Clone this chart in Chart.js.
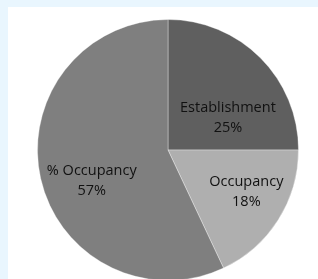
<!DOCTYPE html>
<html>
<head>
<meta charset="utf-8">
<script src="https://cdn.jsdelivr.net/npm/chart.js@4"></script>
<style>
    html, body { margin: 0; padding: 0; background: #e9f6fe; width: 318px; height: 279px; overflow: hidden; }
    .box { position: absolute; left: 8px; top: 7px; width: 310px; height: 272px; background: #ffffff; overflow: hidden; }
    .box canvas { display: block; }
</style>
</head>
<body>
<div class="box"><canvas id="pieChart" width="310" height="286"></canvas></div>
<script>
const categories = ['Establishment', 'Occupancy', '% Occupancy'];
const shares = [25, 18, 57];
const sliceColors = ['#5f5f5f', '#afafaf', '#7f7f7f'];

// draws "name / pct%" inside each slice, placed at a chosen angle and radius fraction
const sliceLabels = {
    id: 'sliceLabels',
    afterDatasetsDraw(chart, args, opts) {
        const ctx = chart.ctx;
        const meta = chart.getDatasetMeta(0);
        ctx.save();
        ctx.font = opts.font;
        ctx.fillStyle = opts.color;
        ctx.textAlign = 'center';
        ctx.textBaseline = 'middle';
        meta.data.forEach((arc, i) => {
            const p = opts.place[i];
            const a = (p.angle - 90) * Math.PI / 180;
            const x = arc.x + Math.cos(a) * arc.outerRadius * p.frac;
            const y = arc.y + Math.sin(a) * arc.outerRadius * p.frac;
            ctx.fillText(chart.data.labels[i], x, y - opts.lineGap / 2);
            ctx.fillText(chart.data.datasets[0].data[i] + '%', x, y + opts.lineGap / 2);
        });
        ctx.restore();
    }
};

const ctx = document.getElementById('pieChart').getContext('2d');
new Chart(ctx, {
    type: 'pie',
    data: {
        labels: categories,
        datasets: [{
            data: shares,
            backgroundColor: sliceColors,
            borderColor: 'rgba(255, 255, 255, 0.35)',
            borderWidth: 1
        }]
    },
    options: {
        responsive: false,
        animation: false,
        layout: {
            padding: { left: 17, right: 7, top: 12, bottom: 12 }
        },
        plugins: {
            legend: { display: false },
            tooltip: { enabled: false },
            sliceLabels: {
                font: '14.5px "Open Sans"',
                color: '#111111',
                lineGap: 20,
                place: [
                    { angle: 62, frac: 0.52 },
                    { angle: 118, frac: 0.68 },
                    { angle: 248, frac: 0.63 }
                ]
            }
        }
    },
    plugins: [sliceLabels]
});
</script>
</body>
</html>
